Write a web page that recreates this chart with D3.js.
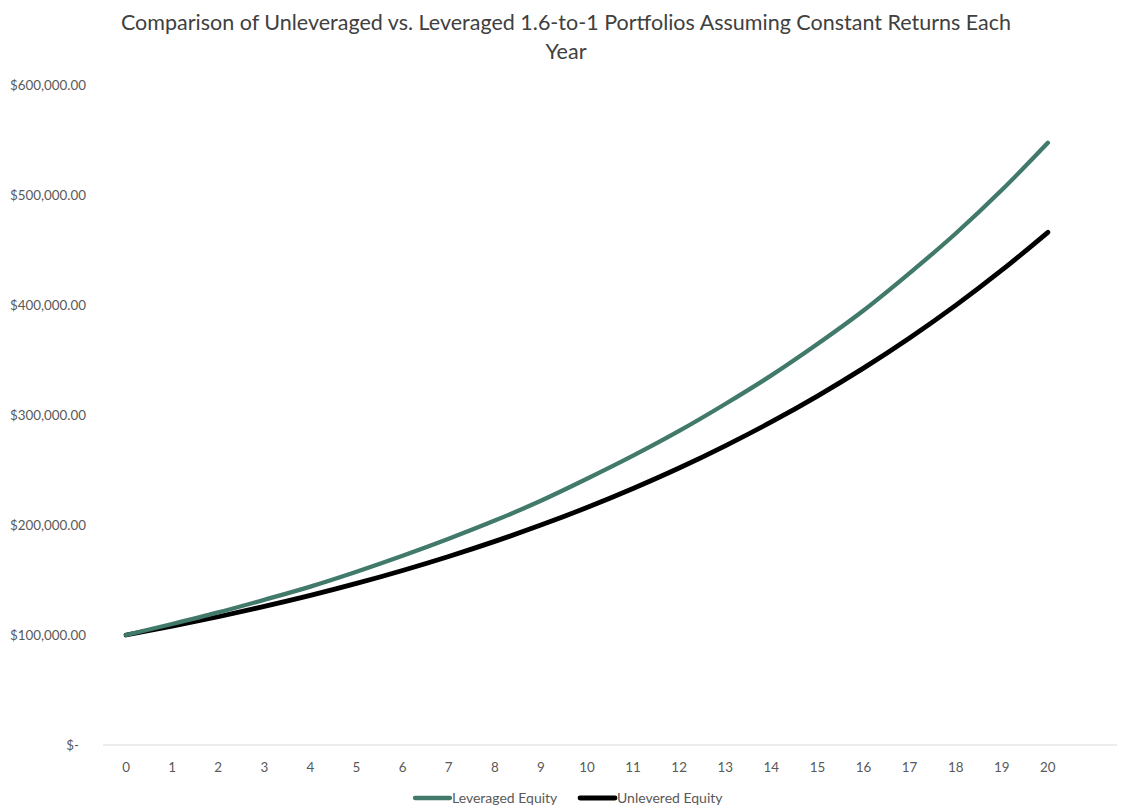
<!DOCTYPE html>
<html>
<head>
<meta charset="utf-8">
<script src="https://cdn.jsdelivr.net/npm/d3@7"></script>
<style>
  body { margin: 0; background: #fff; }
  svg { font-family: Lato, "Open Sans", sans-serif; }
</style>
</head>
<body>
<svg id="chart" width="1134" height="811"></svg>
<script>
// years on the category axis
const years = d3.range(0, 21);
// portfolio values
const leveraged = [100000, 110000, 120500, 132000, 144000, 157500, 172000, 187500, 204000, 222000,
                   242000, 263000, 285500, 310000, 336000, 364500, 395000, 429000, 465000, 504500, 547500];
const unlevered = [100000, 108000, 116600, 126000, 136000, 146900, 158700, 171400, 185100, 199900,
                   215900, 233200, 251800, 272000, 293700, 317200, 342600, 370000, 399600, 431600, 466100];
const yTicks = [0, 100000, 200000, 300000, 400000, 500000, 600000];
const seriesNames = ["Leveraged Equity", "Unlevered Equity"];
const seriesColors = ["#41796a", "#000000"];

const svg = d3.select("#chart");

// scales - axis has one empty slot on the right like the original
const x = d3.scaleLinear().domain([-0.5, years.length + 0.5]).range([103, 1117]);
const y = d3.scaleLinear().domain([0, 600000]).range([745, 85]);

// title
const title = svg.append("text")
  .attr("text-anchor", "middle")
  .attr("fill", "#404040")
  .style("font-size", "21.5px");
title.append("tspan").attr("x", 566).attr("y", 30)
  .text("Comparison of Unleveraged vs. Leveraged 1.6-to-1 Portfolios Assuming Constant Returns Each");
title.append("tspan").attr("x", 566).attr("y", 59).text("Year");

// x axis line
svg.append("line")
  .attr("x1", x.range()[0]).attr("x2", x.range()[1])
  .attr("y1", y(0)).attr("y2", y(0))
  .attr("stroke", "#d9d9d9").attr("stroke-width", 1);

// y labels (accounting format)
const money = d3.format(",.2f");
svg.append("g").selectAll("text")
  .data(yTicks)
  .join("text")
  .attr("x", d => d === 0 ? 79 : 86)
  .attr("y", d => y(d))
  .attr("dy", "0.35em")
  .attr("text-anchor", "end")
  .attr("fill", "#595959")
  .style("font-size", "13.4px")
  .text(d => d === 0 ? "$-" : "$" + money(d));

// x labels
svg.append("g").selectAll("text")
  .data(years)
  .join("text")
  .attr("x", d => x(d))
  .attr("y", 767)
  .attr("dy", "0.35em")
  .attr("text-anchor", "middle")
  .attr("fill", "#595959")
  .style("font-size", "13.4px")
  .text(d => d);

// lines
const line = d3.line()
  .x((d, i) => x(years[i]))
  .y(d => y(d))
  .curve(d3.curveMonotoneX);

svg.append("path")
  .datum(unlevered)
  .attr("d", line)
  .attr("fill", "none")
  .attr("stroke", seriesColors[1])
  .attr("stroke-width", 4.8)
  .attr("stroke-linecap", "round");

svg.append("path")
  .datum(leveraged)
  .attr("d", line)
  .attr("fill", "none")
  .attr("stroke", seriesColors[0])
  .attr("stroke-width", 4.3)
  .attr("stroke-linecap", "round");

// legend
const legendX = [415, 580];
const legend = svg.append("g").selectAll("g")
  .data(seriesNames)
  .join("g")
  .attr("transform", (d, i) => `translate(${legendX[i]},798)`);
legend.append("line")
  .attr("x1", 0).attr("x2", 35)
  .attr("stroke", (d, i) => seriesColors[i])
  .attr("stroke-width", (d, i) => i === 0 ? 4.3 : 4.8)
  .attr("stroke-linecap", "round");
legend.append("text")
  .attr("x", 37)
  .attr("dy", "0.35em")
  .attr("fill", "#595959")
  .style("font-size", "14px")
  .text(d => d);
</script>
</body>
</html>
